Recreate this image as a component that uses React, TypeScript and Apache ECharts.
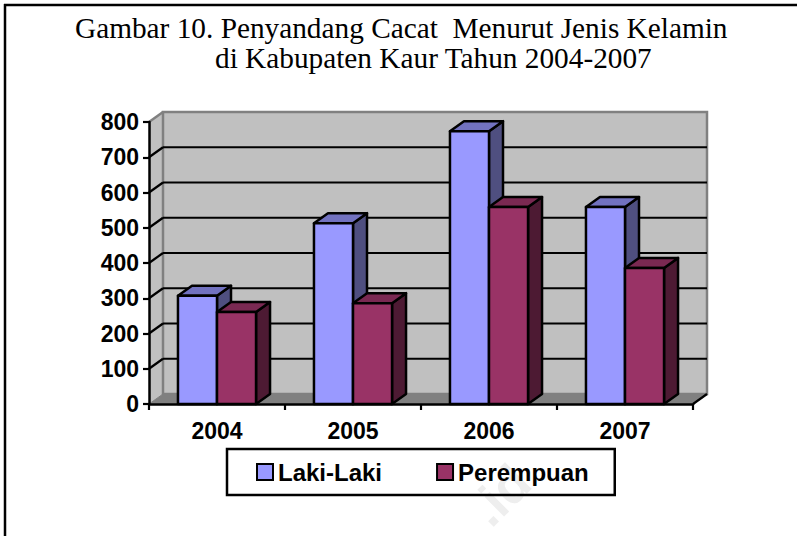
import React, { useEffect, useRef } from "react";
import * as echarts from "echarts";

const titleLines = ["Gambar 10. Penyandang Cacat  Menurut Jenis Kelamin", "di Kabupaten Kaur Tahun 2004-2007"];
const categories = ["2004", "2005", "2006", "2007"];
const lakiLaki = [307, 513, 774, 559];
const perempuan = [261, 286, 559, 386];
const yTicks = [0, 100, 200, 300, 400, 500, 600, 700, 800];
const seriesNames = ["Laki-Laki", "Perempuan"];

const DX = 14;
const DY = 10;
const BAR_RATIO = 0.287;

const bar3d = (side: number, front: string, top: string, right: string) => (params: any, api: any) => {
  const [cx, y1] = api.coord([api.value(0), api.value(1)]);
  const [, y0] = api.coord([api.value(0), 0]);
  const w = api.size([1, 0])[0] * BAR_RATIO;
  const x0 = side < 0 ? cx - w : cx;
  const x1 = x0 + w;
  const stroke = { stroke: "#000", lineWidth: 2.5, lineJoin: "round" };
  return {
    type: "group",
    children: [
      { type: "polygon", shape: { points: [[x1, y1], [x1 + DX, y1 - DY], [x1 + DX, y0 - DY], [x1, y0]] }, style: { fill: right, ...stroke } },
      { type: "polygon", shape: { points: [[x0, y1], [x0 + DX, y1 - DY], [x1 + DX, y1 - DY], [x1, y1]] }, style: { fill: top, ...stroke } },
      { type: "rect", shape: { x: x0, y: y1, width: w, height: y0 - y1 }, style: { fill: front, ...stroke } },
    ],
  };
};

const wallItem = (params: any, api: any) => {
  const cs = params.coordSys;
  const v = api.value(1);
  const [, y] = api.coord([0, v]);
  const left = cs.x;
  const right = cs.x + cs.width;
  const children: any[] = [];
  if (params.dataIndex === 0) {
    const [, yTop] = api.coord([0, yTicks[yTicks.length - 1]]);
    children.push(
      { type: "polygon", shape: { points: [[left, yTop], [left + DX, yTop - DY], [left + DX, y - DY], [left, y]] }, style: { fill: "#C0C0C0", stroke: "none" } },
      { type: "rect", shape: { x: left + DX, y: yTop - DY, width: cs.width, height: y - yTop }, style: { fill: "#C0C0C0", stroke: "#808080", lineWidth: 2.5 } },
      { type: "polygon", shape: { points: [[left, y], [left + DX, y - DY], [right + DX, y - DY], [right, y]] }, style: { fill: "#808080", stroke: "#808080", lineWidth: 1 } },
      { type: "line", shape: { x1: left, y1: yTop, x2: left + DX, y2: yTop - DY }, style: { stroke: "#808080", lineWidth: 2.5 } },
      { type: "line", shape: { x1: right, y1: y, x2: right + DX, y2: y - DY }, style: { stroke: "#000", lineWidth: 2.2 } }
    );
  } else if (v < yTicks[yTicks.length - 1]) {
    children.push(
      { type: "line", shape: { x1: left, y1: y, x2: left + DX, y2: y - DY }, style: { stroke: "#000", lineWidth: 2.2 } },
      { type: "line", shape: { x1: left + DX, y1: y - DY, x2: right + DX, y2: y - DY }, style: { stroke: "#000", lineWidth: 2.2 } }
    );
  }
  return { type: "group", children };
};

export default function App() {
  const ref = useRef<HTMLDivElement>(null);
  useEffect(() => {
    const chart = echarts.init(ref.current!, null, { renderer: "svg" });
    const labelFont = { fontFamily: "Liberation Sans", fontWeight: "bold", fontSize: 23, color: "#000" };
    const titleFont = { fontFamily: "Liberation Serif", fontWeight: "normal", fontSize: 29.3, color: "#000" };
    chart.setOption({
      animation: false,
      backgroundColor: "#fff",
      title: [
        { text: titleLines[0], left: 75, top: 13, padding: 0, textStyle: titleFont },
        { text: titleLines[1], left: 215, top: 43, padding: 0, textStyle: titleFont },
      ],
      grid: { left: 149, right: 104, top: 122, bottom: 132, containLabel: false },
      xAxis: {
        type: "category",
        data: categories,
        z: 2,
        axisLine: { lineStyle: { color: "#000", width: 2.5 } },
        axisTick: { show: true, length: 6, lineStyle: { color: "#000", width: 2.2 } },
        axisLabel: { ...labelFont, margin: 15 },
      },
      yAxis: {
        type: "value",
        min: 0,
        max: 800,
        interval: 100,
        z: 2,
        splitLine: { show: false },
        axisLine: { show: true, lineStyle: { color: "#000", width: 2.5 } },
        axisTick: { show: true, length: 6, lineStyle: { color: "#000", width: 2.2 } },
        axisLabel: { ...labelFont, margin: 10 },
      },
      legend: {
        left: 227,
        top: 449,
        padding: [11, 26, 11, 29],
        itemGap: 54,
        itemWidth: 16,
        itemHeight: 16,
        borderColor: "#000",
        borderWidth: 2.5,
        textStyle: { ...labelFont, fontSize: 24, padding: [0, 0, 0, 0] },
        data: [
          { name: seriesNames[0], icon: "rect", itemStyle: { color: "#9999FF", borderColor: "#000", borderWidth: 2 } },
          { name: seriesNames[1], icon: "rect", itemStyle: { color: "#993366", borderColor: "#000", borderWidth: 2 } },
        ],
      },
      series: [
        { type: "custom", name: "walls", z: 1, silent: true, renderItem: wallItem, data: yTicks.map((v) => [0, v]), clip: false },
        { type: "custom", name: seriesNames[0], z: 3, itemStyle: { color: "#9999FF" }, renderItem: bar3d(-1, "#9999FF", "#7272C0", "#4F4F80"), data: lakiLaki.map((v, i) => [i, v]), clip: false },
        { type: "custom", name: seriesNames[1], z: 4, itemStyle: { color: "#993366" }, renderItem: bar3d(1, "#993366", "#7A2952", "#4D1A33"), data: perempuan.map((v, i) => [i, v]), clip: false },
      ],
      graphic: [
        { type: "text", z: -1, x: 500, y: 495, rotation: Math.PI / 4, style: { text: ".id", fill: "#EEEEEE", font: "bold 52px Liberation Sans", align: "center", verticalAlign: "middle" } },
        { type: "line", z: 0, shape: { x1: 4, y1: 5, x2: 797, y2: 5 }, style: { stroke: "#000", lineWidth: 2.5 } },
        { type: "line", z: 0, shape: { x1: 5, y1: 4, x2: 5, y2: 536 }, style: { stroke: "#000", lineWidth: 2.5 } },
      ],
    });
    return () => chart.dispose();
  }, []);
  return <div ref={ref} style={{ position: "absolute", left: 0, top: 0, width: 797, height: 536 }} />;
}
